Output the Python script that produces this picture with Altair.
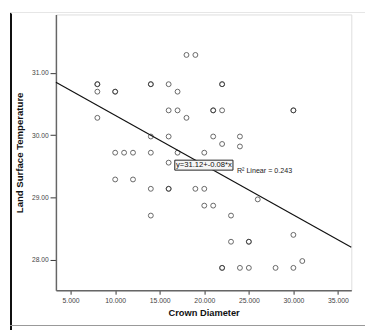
import altair as alt
import pandas as pd

# Data
crown = [8, 8, 8, 8,
         10, 10, 10, 10,
         11, 12, 12,
         14, 14, 14, 14, 14, 14,
         16, 16, 16, 16, 16, 16,
         17, 17, 17,
         18, 18,
         19, 19,
         20, 20, 20,
         21, 21, 21, 21,
         22, 22, 22, 22, 22, 22,
         23, 23,
         24, 24, 24,
         25, 25, 25,
         26, 28,
         30, 30, 30, 30,
         31]
lst = [30.82, 30.82, 30.70, 30.28,
       30.70, 30.70, 29.72, 29.29,
       29.72, 29.72, 29.29,
       30.82, 30.82, 29.98, 29.72, 29.14, 28.71,
       30.82, 30.40, 29.98, 29.56, 29.14, 29.14,
       30.70, 30.40, 29.72,
       31.29, 30.28,
       31.29, 29.14,
       29.72, 29.14, 28.87,
       30.40, 30.40, 29.98, 28.87,
       30.82, 30.82, 30.40, 29.86, 27.87, 27.87,
       28.71, 28.29,
       29.98, 29.82, 27.87,
       28.29, 28.29, 27.87,
       28.97, 27.87,
       30.40, 30.40, 28.40, 27.87,
       27.98]

# Fit line end points
line_x = [3.35, 36.5]
line_y = [30.85, 28.20]

x_ticks = [5, 10, 15, 20, 25, 30, 35]
y_ticks = [28, 29, 30, 31]
x_domain = [3.35, 36.5]
y_domain = [27.51, 31.94]

equation = "y=31.12+-0.08*x"
r2_label = "R\u00b2 Linear = 0.243"

FONT = "Liberation Sans"

pts = pd.DataFrame({"x": crown, "y": lst})
line_df = pd.DataFrame({"x": line_x, "y": line_y})
box_df = pd.DataFrame({"x": [16.69], "x2": [23.22], "y": [29.44], "y2": [29.60],
                       "tx": [19.95], "ty": [29.52], "label": [equation]})
r2_df = pd.DataFrame({"x": [23.66], "y": [29.43], "label": [r2_label]})

xs = alt.Scale(domain=x_domain, nice=False, zero=False)
ys = alt.Scale(domain=y_domain, nice=False, zero=False)

x_axis = alt.Axis(values=x_ticks, format=".3f", title="Crown Diameter", grid=False,
                  labelFont=FONT, labelFontSize=7, labelColor="#444",
                  tickColor="#333", tickSize=4, labelPadding=2,
                  domainColor="#666", domainWidth=1.5,
                  titleFont=FONT, titleFontSize=9.5, titleFontWeight="bold",
                  titleColor="#111", titlePadding=5)
y_axis = alt.Axis(values=y_ticks, format=".2f", title="Land Surface Temperature", grid=False,
                  labelFont=FONT, labelFontSize=6.8, labelColor="#444",
                  tickColor="#333", tickSize=6, labelPadding=2,
                  domainColor="#666", domainWidth=1.5,
                  titleFont=FONT, titleFontSize=9.8, titleFontWeight="bold",
                  titleColor="#111", titlePadding=7)

points = alt.Chart(pts).mark_point(shape="circle", filled=False, size=25,
                                   color="#333", strokeWidth=1, opacity=0.75).encode(
    x=alt.X("x:Q", scale=xs, axis=x_axis),
    y=alt.Y("y:Q", scale=ys, axis=y_axis),
)

fit = alt.Chart(line_df).mark_line(color="#111", strokeWidth=1.2).encode(
    x=alt.X("x:Q", scale=xs), y=alt.Y("y:Q", scale=ys))

box = alt.Chart(box_df).mark_rect(fill="#f6f6f6", stroke="#222", strokeWidth=1).encode(
    x=alt.X("x:Q", scale=xs), x2="x2:Q", y=alt.Y("y:Q", scale=ys), y2="y2:Q")

eq_text = alt.Chart(box_df).mark_text(font=FONT, fontSize=7.8, color="#111",
                                      align="center", baseline="middle").encode(
    x=alt.X("tx:Q", scale=xs), y=alt.Y("ty:Q", scale=ys), text="label:N")

r2_text = alt.Chart(r2_df).mark_text(font=FONT, fontSize=7.3, color="#222",
                                     align="left", baseline="middle").encode(
    x=alt.X("x:Q", scale=xs), y=alt.Y("y:Q", scale=ys), text="label:N")

# page frame of the screenshot
left_frame = alt.Chart(pts).mark_rule(color="#111", strokeWidth=1.5).encode(
    x=alt.value(-46), y=alt.value(-2), y2=alt.value(322))
bottom_frame = alt.Chart(pts).mark_rule(color="#999", strokeWidth=1.2).encode(
    x=alt.value(-46), x2=alt.value(318), y=alt.value(318))
top_frame = alt.Chart(pts).mark_rule(color="#e6e6e6", strokeWidth=1).encode(
    x=alt.value(-46), x2=alt.value(318), y=alt.value(-2))

chart = alt.layer(points, fit, box, eq_text, r2_text, left_frame, bottom_frame, top_frame).properties(
    width=302, height=282,
    padding={"left": 49, "top": 3, "right": 14, "bottom": 38},
    autosize=alt.AutoSizeParams(type="none"),
).configure_view(
    fill="#f0f0f0", stroke="#888", strokeWidth=1.5
).configure(background="white")

chart.save("out.html", embed_options={"renderer": "svg", "actions": False})
